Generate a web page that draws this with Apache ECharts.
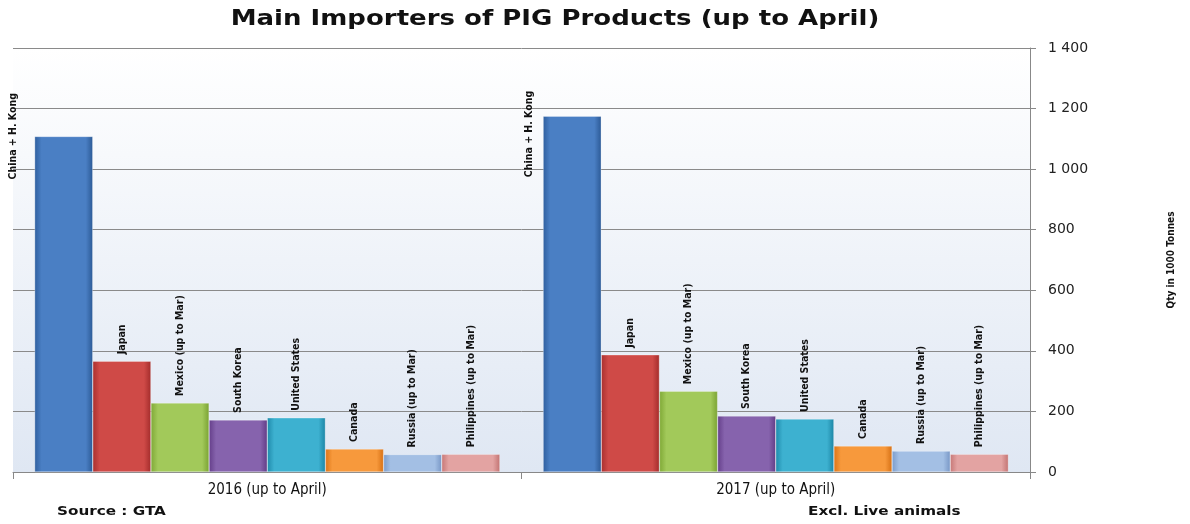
<!DOCTYPE html>
<html>
<head>
<meta charset="utf-8">
<script src="https://cdn.jsdelivr.net/npm/echarts@6/dist/echarts.min.js"></script>
<style>html,body{margin:0;padding:0;background:#fff}#c{width:1190px;height:524px}</style>
</head>
<body>
<div id="c"></div>
<script>
var categories = ['2016 (up to April)', '2017 (up to April)'];
var countries = ['China + H. Kong', 'Japan', 'Mexico (up to Mar)', 'South Korea', 'United States', 'Canada', 'Russia (up to Mar)', 'Philippines (up to Mar)'];
var values2016 = [1108, 366, 228, 172, 179, 76, 58, 59];
var values2017 = [1175, 387, 267, 185, 175, 86, 69, 59];
var yTicks = [0, 200, 400, 600, 800, 1000, 1200, 1400];

var NARROW = "'DejaVu Sans Condensed', 'DejaVu Sans', sans-serif";

var colors = [
  ['#2f5f9f', '#4a7fc4', '#2c5a96'],
  ['#a9302f', '#cf4a47', '#a32c2b'],
  ['#7fa836', '#a2c95a', '#7aa232'],
  ['#653f8a', '#8663ad', '#613c86'],
  ['#1f8aab', '#3db1d0', '#1c85a5'],
  ['#dc7416', '#f7993c', '#d67014'],
  ['#7b9ccb', '#a3bfe4', '#7897c6'],
  ['#c77877', '#e3a3a2', '#c27372']
];
var chinaLabelPos = [[-21, 43], [-14, 61]];

var series = countries.map(function (name, i) {
  var vals = [values2016[i], values2017[i]];
  var c = colors[i];
  return {
    name: name,
    type: 'bar',
    barGap: '0%',
    barCategoryGap: '8.5%',
    itemStyle: {
      color: new echarts.graphic.LinearGradient(0, 0, 1, 0, [
        {offset: 0, color: c[0]}, {offset: 0.12, color: c[1]},
        {offset: 0.88, color: c[1]}, {offset: 1, color: c[2]}
      ]),
      borderColor: 'rgba(255,255,255,0.6)',
      borderWidth: 0.5
    },
    label: {
      show: true,
      formatter: name,
      position: 'top',
      distance: 7,
      rotate: 90,
      align: 'left',
      verticalAlign: 'middle',
      fontFamily: NARROW,
      fontWeight: 'bold',
      fontSize: 10.5,
      color: '#111'
    },
    data: vals.map(function (v, j) {
      if (i === 0) {
        return {value: v, label: {position: chinaLabelPos[j]}};
      }
      return v;
    })
  };
});

var chart = echarts.init(document.getElementById('c'));
chart.setOption({
  animation: false,
  graphic: [
    {type: 'text', x: 555, y: 20, scaleX: 1.3, scaleY: 1.05,
     style: {text: 'Main Importers of PIG Products (up to April)', align: 'center', verticalAlign: 'middle',
             font: 'bold 20px "DejaVu Sans"', fill: '#111'}},
    {type: 'text', x: 57, y: 512, scaleX: 1.3,
     style: {text: 'Source : GTA', align: 'left', verticalAlign: 'middle',
             font: 'bold 13px ' + NARROW, fill: '#111'}},
    {type: 'text', x: 808, y: 512, scaleX: 1.3,
     style: {text: 'Excl. Live animals', align: 'left', verticalAlign: 'middle',
             font: 'bold 13px ' + NARROW, fill: '#111'}}
  ],
  grid: {
    left: 13, right: 160, top: 48, bottom: 52,
    show: true, borderWidth: 0,
    backgroundColor: new echarts.graphic.LinearGradient(0, 0, 0, 1, [
      {offset: 0, color: '#ffffff'}, {offset: 1, color: '#dfe7f3'}
    ])
  },
  xAxis: {
    type: 'category',
    data: categories,
    axisLine: {lineStyle: {color: '#888', width: 1}},
    axisTick: {show: true, length: 7, lineStyle: {color: '#888'}},
    axisLabel: {fontFamily: NARROW, fontSize: 15, color: '#111', margin: 11}
  },
  yAxis: {
    type: 'value',
    position: 'right',
    min: 0, max: 1400, interval: 200,
    name: 'Qty in 1000 Tonnes',
    nameLocation: 'middle',
    nameRotate: 90,
    nameGap: 136,
    nameTextStyle: {fontFamily: NARROW, fontWeight: 'bold', fontSize: 10, color: '#111'},
    axisLine: {show: true, lineStyle: {color: '#888'}},
    axisTick: {show: true, length: 6, lineStyle: {color: '#888'}},
    splitLine: {lineStyle: {color: '#8a8a8a', width: 1}},
    axisLabel: {
      margin: 18,
      fontFamily: 'DejaVu Sans', fontSize: 14, color: '#222',
      formatter: function (v) {
        return String(v).replace(/\B(?=(\d{3})+(?!\d))/g, ' ');
      }
    }
  },
  series: series
});
</script>
</body>
</html>
